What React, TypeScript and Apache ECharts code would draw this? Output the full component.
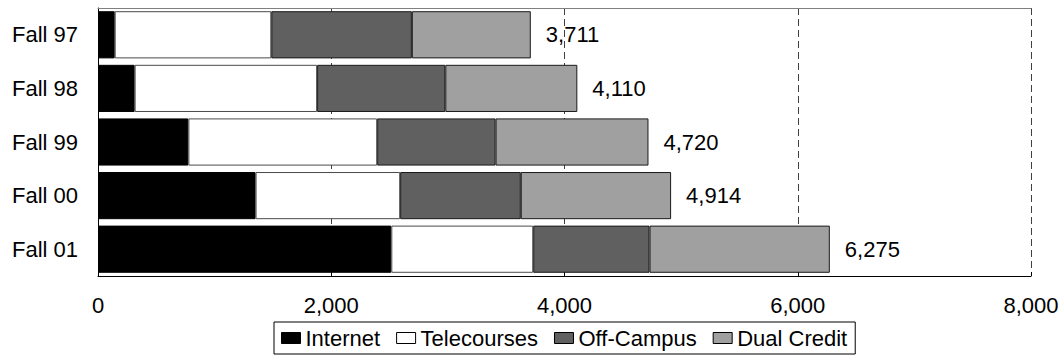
import React, { useEffect, useRef } from "react";
import * as echarts from "echarts";

const categories = ["Fall 97", "Fall 98", "Fall 99", "Fall 00", "Fall 01"];
const seriesNames = ["Internet", "Telecourses", "Off-Campus", "Dual Credit"];
const internet = [143, 314, 775, 1351, 2515];
const telecourses = [1343, 1565, 1619, 1240, 1217];
const offCampus = [1205, 1099, 1015, 1034, 997];
const dualCredit = [1020, 1132, 1311, 1289, 1546];
const totals = [3711, 4110, 4720, 4914, 6275];
const seriesColors = ["#000000", "#ffffff", "#606060", "#a0a0a0"];
const seriesBorders = ["#000000", "#4a4a4a", "#1a1a1a", "#1a1a1a"];
const axisMin = 0;
const axisMax = 8000;
const axisInterval = 2000;

const FONT = "'Liberation Sans', Arial, sans-serif";

export default function App() {
  const ref = useRef<HTMLDivElement>(null);

  useEffect(() => {
    if (!ref.current) return;
    const chart = echarts.init(ref.current, undefined, { renderer: "svg" });
    const values = [internet, telecourses, offCampus, dualCredit];
    const series = values.map((data, i) => ({
      name: seriesNames[i],
      type: "bar",
      stack: "total",
      xAxisIndex: 0,
      yAxisIndex: 0,
      barCategoryGap: "12%",
      data,
      itemStyle: {
        color: seriesColors[i],
        borderColor: seriesBorders[i],
        borderWidth: 1,
      },
      label:
        i === values.length - 1
          ? {
              show: true,
              position: "right",
              distance: 15,
              fontSize: 22,
              fontFamily: FONT,
              color: "#000",
              formatter: (p: any) => totals[p.dataIndex].toLocaleString("en-US"),
            }
          : { show: false },
    }));

    chart.setOption({
      animation: false,
      backgroundColor: "#fff",
      textStyle: { fontFamily: FONT },
      grid: { left: 98, right: 32, top: 8, bottom: 80, containLabel: false },
      xAxis: [
        {
          type: "value",
          min: axisMin,
          max: axisMax,
          interval: axisInterval,
          axisLine: { show: true, lineStyle: { color: "#000", width: 1 } },
          axisTick: { show: true, inside: true, length: 4, lineStyle: { color: "#000" } },
          axisLabel: {
            fontSize: 22,
            fontFamily: FONT,
            color: "#000",
            margin: 18,
            formatter: (v: number) => v.toLocaleString("en-US"),
          },
          splitLine: {
            show: true,
            lineStyle: { color: "#404040", type: [7, 4], width: 1 },
          },
        },
        {
          type: "value",
          position: "top",
          min: axisMin,
          max: axisMax,
          interval: axisInterval,
          axisLine: { show: true, lineStyle: { color: "#808080", width: 1 } },
          axisTick: { show: false },
          axisLabel: { show: false },
          splitLine: { show: false },
        },
      ],
      yAxis: {
        type: "category",
        data: categories,
        inverse: true,
        axisLine: { show: true, lineStyle: { color: "#000", width: 1 } },
        axisTick: { show: false },
        axisLabel: {
          fontSize: 22,
          fontFamily: FONT,
          color: "#000",
          margin: 20,
        },
      },
      legend: {
        data: seriesNames,
        left: 274,
        top: 322,
        orient: "horizontal",
        icon: "rect",
        itemWidth: 19,
        itemHeight: 11,
        itemGap: 16,
        padding: [5, 8, 5, 7],
        borderColor: "#000",
        borderWidth: 1,
        itemStyle: { borderColor: "#000", borderWidth: 1 },
        textStyle: { fontSize: 22, fontFamily: FONT, color: "#000" },
      },
      series,
    });

    return () => {
      chart.dispose();
    };
  }, []);

  return (
    <div
      ref={ref}
      style={{ position: "fixed", left: 0, top: 0, width: 1063, height: 356 }}
    />
  );
}
